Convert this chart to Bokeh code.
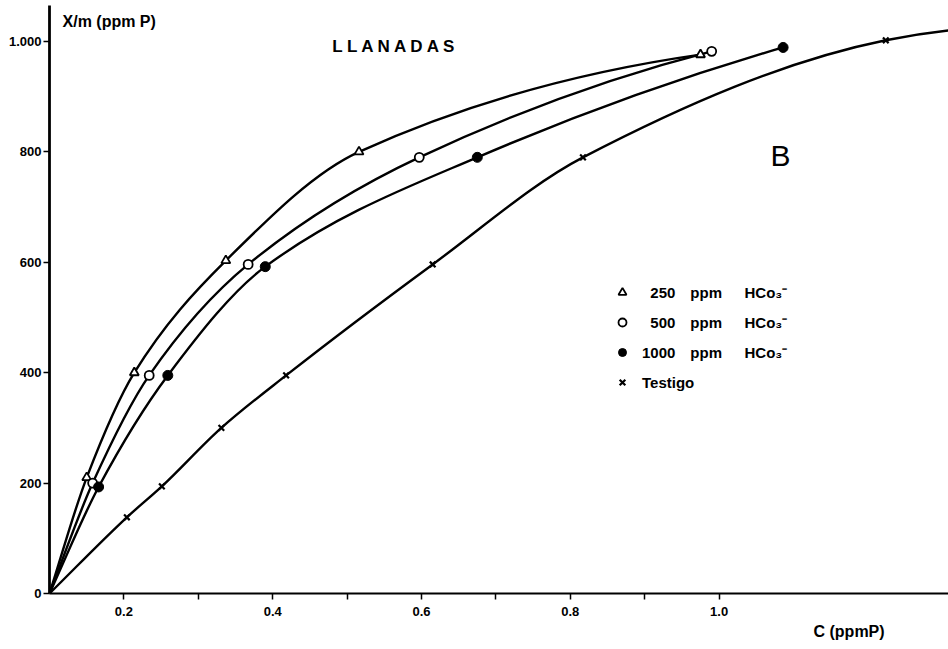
import numpy as np
from bokeh.plotting import figure
from bokeh.models import (Range1d, FixedTicker, NumeralTickFormatter, Label,
                          Legend, LegendItem, ColumnDataSource, Title)
from bokeh.core.properties import value
from bokeh.embed import file_html
from bokeh.resources import INLINE

# Phosphate sorption isotherms, soil "Llanadas"
# C = equilibrium concentration (ppm P), X/m = sorbed P (ppm P)
ORIGIN_C = 0.10          # where the C axis starts (labelled "0")
ORIGIN_V = 0.0

C_250 = [0.150, 0.214, 0.337, 0.516, 0.975]
V_250 = [210, 400, 603, 800, 976]

C_500 = [0.158, 0.234, 0.367, 0.597, 0.990]
V_500 = [200, 395, 596, 790, 982]

C_1000 = [0.166, 0.259, 0.390, 0.675, 1.086]
V_1000 = [193, 395, 592, 790, 989]

C_TESTIGO = [0.204, 0.251, 0.331, 0.418, 0.615, 0.817, 1.224]
V_TESTIGO = [138, 194, 300, 395, 596, 790, 1002]
TESTIGO_TAIL_C = [1.31]
TESTIGO_TAIL_V = [1020]

X_TICKS = [0.2, 0.4, 0.6, 0.8, 1.0]
X_MINOR = [0.3, 0.5, 0.7, 0.9]
Y_TICKS = [0, 200, 400, 600, 800, 1000]

LEGEND_LABELS = [
    "\u2007250\u2002\u2002ppm\u2002\u2002\u2002HCo\u2083\u207b",
    "\u2007500\u2002\u2002ppm\u2002\u2002\u2002HCo\u2083\u207b",
    "1000\u2002\u2002ppm\u2002\u2002\u2002HCo\u2083\u207b",
    "Testigo",
]

FONT = "Liberation Sans"


def smooth_segments(xs, ys):
    """Monotone cubic (Fritsch-Carlson) pieces as Bezier segments."""
    xs = np.asarray(xs, float)
    ys = np.asarray(ys, float)
    h = np.diff(xs)
    d = np.diff(ys) / h
    m = np.empty_like(xs)
    for k in range(1, len(xs) - 1):
        if d[k - 1] * d[k] <= 0:
            m[k] = 0.0
        else:
            w1 = 2 * h[k] + h[k - 1]
            w2 = h[k] + 2 * h[k - 1]
            m[k] = (w1 + w2) / (w1 / d[k - 1] + w2 / d[k])
    m[0] = d[0]
    m[-1] = max(2 * d[-1] - m[-2], 0.5 * d[-1])
    return ColumnDataSource(dict(
        x0=xs[:-1], y0=ys[:-1], x1=xs[1:], y1=ys[1:],
        cx0=xs[:-1] + h / 3, cy0=ys[:-1] + m[:-1] * h / 3,
        cx1=xs[1:] - h / 3, cy1=ys[1:] - m[1:] * h / 3,
    ))


p = figure(width=948, height=649, output_backend="svg", toolbar_location=None,
           x_range=Range1d(0.10, 1.3083), y_range=Range1d(0, 1065),
           min_border_left=49, min_border_right=0, min_border_top=5,
           min_border_bottom=56)
p.outline_line_color = None
p.xgrid.visible = False
p.ygrid.visible = False
p.background_fill_color = "white"
p.border_fill_color = "white"

# axes
xa = p.xaxis[0]
xa.ticker = FixedTicker(ticks=X_TICKS, minor_ticks=X_MINOR)
xa.formatter = NumeralTickFormatter(format="0.0")
xa.axis_line_width = 2
xa.major_tick_in = 0
xa.major_tick_out = 6
xa.minor_tick_in = 0
xa.minor_tick_out = 6
xa.major_tick_line_width = 1.5
xa.minor_tick_line_width = 1.5
xa.major_label_standoff = 7
xa.major_label_text_font = FONT
xa.major_label_text_font_style = "bold"
xa.major_label_text_font_size = "13px"
xa.major_label_text_color = "black"

ya = p.yaxis[0]
ya.ticker = FixedTicker(ticks=Y_TICKS)
ya.major_label_overrides = {1000: "1.000"}
ya.axis_line_width = 2.8
ya.major_tick_in = 0
ya.major_tick_out = 6
ya.major_tick_line_width = 1.5
ya.minor_tick_line_color = None
ya.major_label_standoff = 2
ya.major_label_text_font = FONT
ya.major_label_text_font_style = "bold"
ya.major_label_text_font_size = "13px"
ya.major_label_text_color = "black"

# curves from the origin through each series
line_kw = dict(line_color="black", line_width=2.4)
for cs, vs in [(C_250, V_250), (C_500, V_500), (C_1000, V_1000),
               (C_TESTIGO + TESTIGO_TAIL_C, V_TESTIGO + TESTIGO_TAIL_V)]:
    src = smooth_segments([ORIGIN_C] + list(cs), [ORIGIN_V] + list(vs))
    p.bezier(x0="x0", y0="y0", x1="x1", y1="y1", cx0="cx0", cy0="cy0",
             cx1="cx1", cy1="cy1", source=src, **line_kw)

# measured points
r250 = p.scatter(C_250, V_250, marker="triangle", size=9, fill_color="white",
                 line_color="black", line_width=1.8)
r500 = p.scatter(C_500, V_500, marker="circle", size=9, fill_color="white",
                 line_color="black", line_width=1.8)
r1000 = p.scatter(C_1000, V_1000, marker="circle", size=10, fill_color="black",
                  line_color="black", line_width=1)
rtest = p.scatter(C_TESTIGO, V_TESTIGO, marker="x", size=8, line_color="black",
                  line_width=2.2)

legend = Legend(items=[LegendItem(label=value(t), renderers=[r])
                       for t, r in zip(LEGEND_LABELS, [r250, r500, r1000, rtest])],
                location=(563, 201), orientation="vertical",
                glyph_width=20, glyph_height=20, label_height=20, spacing=10,
                label_standoff=10, padding=0, margin=0,
                border_line_color=None, background_fill_alpha=0,
                label_text_font=FONT, label_text_font_style="bold",
                label_text_font_size="15px", label_text_color="black")
p.add_layout(legend)

# titles and captions
p.add_layout(Label(x=0.1175, y=1036, text="X/m (ppm P)", text_font=FONT,
                   text_font_style="bold", text_font_size="16px",
                   text_color="black", text_baseline="middle",
                   text_align="left"))
p.add_layout(Label(x=0.565, y=991, text="L L A N A D A S", text_font=FONT,
                   text_font_style="bold", text_font_size="17px",
                   text_color="black", text_baseline="middle",
                   text_align="center"))
p.add_layout(Label(x=1.0825, y=793, text="B", text_font=FONT,
                   text_font_size="30px", text_color="black",
                   text_baseline="middle", text_align="center"))
p.add_layout(Title(text="C (ppmP)", align="left", offset=764, standoff=4,
                   text_font=FONT, text_font_style="bold",
                   text_font_size="16px", text_color="black"), "below")

open("out.html", "w").write(file_html(p, INLINE))
